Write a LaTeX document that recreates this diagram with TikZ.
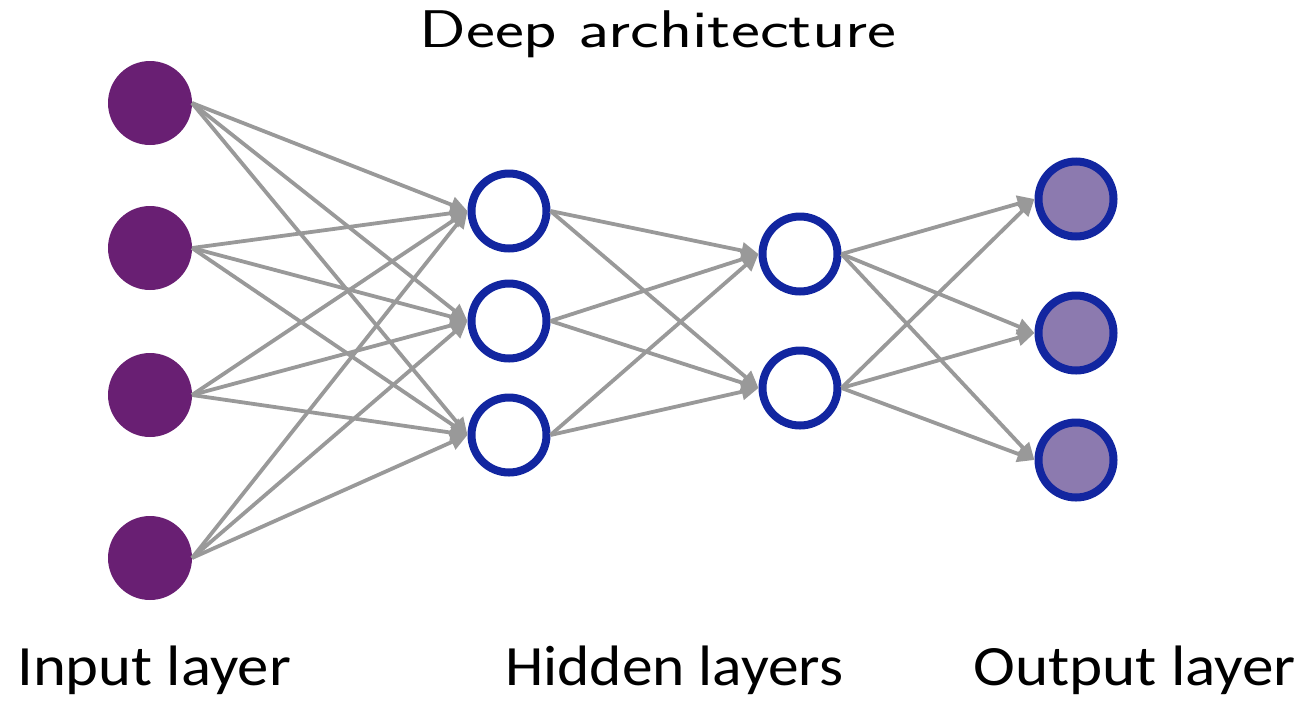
\documentclass[tikz,border=0pt]{standalone}
\usepackage{fontspec}
\newfontfamily\labelfont{Carlito}
\usetikzlibrary{arrows.meta}

\definecolor{inputfill}{HTML}{691F73}
\definecolor{ringblue}{HTML}{1226A0}
\definecolor{outputfill}{HTML}{8C7AAF}
\definecolor{edgegray}{HTML}{999999}

\tikzset{
  inputnode/.style={circle, fill=inputfill, minimum size=84pt, inner sep=0pt, outer sep=0pt},
  hiddennode/.style={circle, draw=ringblue, line width=8pt, fill=white, minimum size=75pt, inner sep=0pt, outer sep=4pt},
  outputnode/.style={hiddennode, fill=outputfill},
  edge/.style={draw=edgegray, line width=3.8pt, -{Triangle[length=17pt,width=16pt]}},
  layerlabel/.style={anchor=base west, inner sep=0pt, font=\labelfont\fontsize{57}{62}\selectfont},
}

\begin{document}
\begin{tikzpicture}[x=1pt, y=-1pt]
  \useasboundingbox (0,0) rectangle (1301,702);

  % title
  \node[anchor=base, inner sep=0pt, font=\sffamily\fontsize{53}{60}\selectfont] (title) at (658,47)
    {\scalebox{1.3}[1]{Deep architecture}};

  % input layer
  \node[inputnode] (i1) at (150,103) {};
  \node[inputnode] (i2) at (150,248) {};
  \node[inputnode] (i3) at (150,395) {};
  \node[inputnode] (i4) at (150,558) {};

  % first hidden layer
  \node[hiddennode] (a1) at (509,211) {};
  \node[hiddennode] (a2) at (509,321) {};
  \node[hiddennode] (a3) at (509,435) {};

  % second hidden layer
  \node[hiddennode] (b1) at (800,254) {};
  \node[hiddennode] (b2) at (800,388) {};

  % output layer
  \node[outputnode] (o1) at (1076,199) {};
  \node[outputnode] (o2) at (1076,333) {};
  \node[outputnode] (o3) at (1076,460) {};

  % fully connected edges between consecutive layers
  \foreach \s in {i1,i2,i3,i4}
    \foreach \t in {a1,a2,a3}
      \path[edge] (\s.east) -- (\t.west);
  \foreach \s in {a1,a2,a3}
    \foreach \t in {b1,b2}
      \path[edge] (\s.east) -- (\t.west);
  \foreach \s in {b1,b2}
    \foreach \t in {o1,o2,o3}
      \path[edge] (\s.east) -- (\t.west);

  % layer labels
  \node[layerlabel] (lin) at (17,685) {\scalebox{1.10}[1]{Input layer}};
  \node[layerlabel] (lhid) at (505,685) {\scalebox{1.078}[1]{Hidden layers}};
  \node[layerlabel] (lout) at (973,685) {\scalebox{1.108}[1]{Output layer}};
\end{tikzpicture}
\end{document}
